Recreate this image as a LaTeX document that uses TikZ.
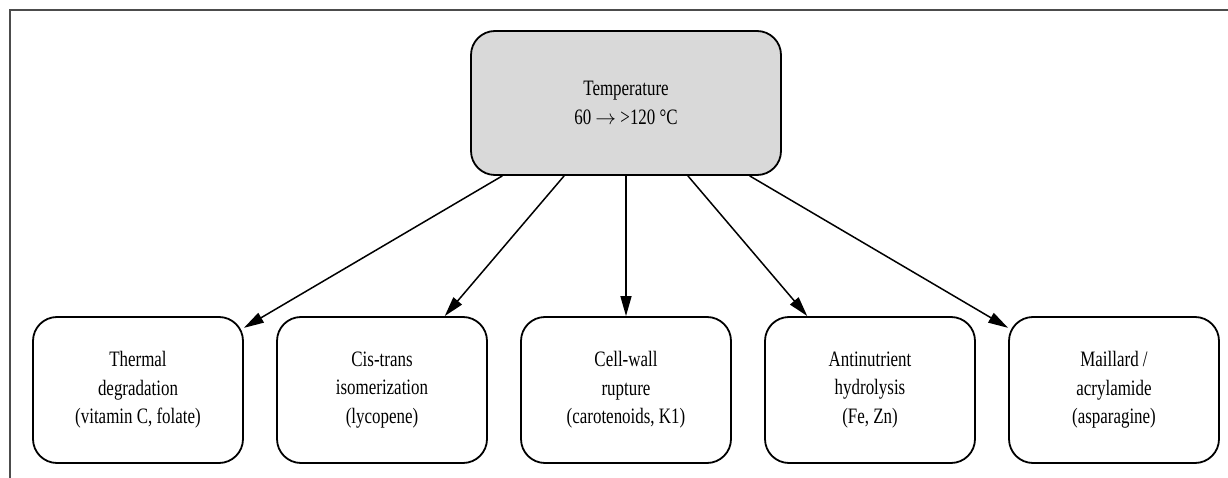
\documentclass[tikz,border=0pt]{standalone}
\usepackage{fontspec}
\setmainfont{Liberation Serif}[FakeStretch=0.77]
\usetikzlibrary{arrows.meta}

\begin{document}
\begin{tikzpicture}[x=1pt, y=-1pt,
    box/.style={draw, line width=1.8pt, rounded corners=24pt, align=center,
        minimum width=210pt, minimum height=146pt, inner sep=0pt,
        font=\fontsize{22}{28.5}\selectfont},
    link/.style={line width=1.5pt, -{Triangle[length=20pt,width=11pt]}}]
    \useasboundingbox (0,0) rectangle (1228,478);
    \draw[black!70, line width=2pt] (10,478) -- (10,10.5) -- (1228,10.5);
    % source
    \node[box, fill=black!15, minimum width=310pt, minimum height=144pt] (temp) at (626,103) {Temperature\\60 $\rightarrow$ >120 °C};
    % effects
    \node[box] (thermal) at (138,390) {Thermal\\degradation\\(vitamin C, folate)};
    \node[box] (isomer) at (382,390) {Cis-trans\\isomerization\\(lycopene)};
    \node[box] (cellwall) at (626,390) {Cell-wall\\rupture\\(carotenoids, K1)};
    \node[box] (antinut) at (870,390) {Antinutrient\\hydrolysis\\(Fe, Zn)};
    \node[box] (maillard) at (1114,390) {Maillard /\\acrylamide\\(asparagine)};
    \draw[link] (temp) -- (thermal);
    \draw[link] (temp) -- (isomer);
    \draw[link] (temp) -- (cellwall);
    \draw[link] (temp) -- (antinut);
    \draw[link] (temp) -- (maillard);
\end{tikzpicture}
\end{document}
